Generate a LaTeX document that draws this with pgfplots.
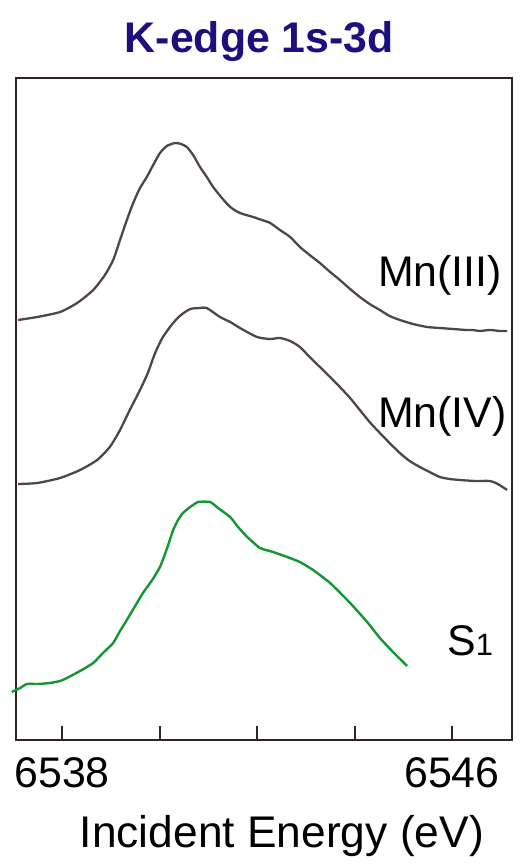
\documentclass[border=0pt]{standalone}
\usepackage{pgfplots}
\pgfplotsset{compat=1.18}
\usepackage{fontspec}
\setmainfont{Liberation Sans}

\definecolor{titleblue}{RGB}{28,16,128}
\definecolor{axisdark}{RGB}{50,35,35}
\definecolor{mncurve}{RGB}{80,70,70}
\definecolor{sgreen}{RGB}{20,150,50}

\newcommand{\bigfont}{\fontsize{43}{50}\selectfont}

\begin{document}
\begin{tikzpicture}
\useasboundingbox (-16bp,-127bp) rectangle (508bp,740bp);
\begin{axis}[
    at={(0,0)}, anchor=south west,
    scale only axis,
    width=496bp, height=662bp,
    xmin=6537.056, xmax=6547.231,
    ymin=0, ymax=662,
    axis line style={color=axisdark, line width=2.6bp},
    xtick={6538,6540,6542,6544,6546},
    xticklabels={6538,,,,6546},
    ytick=\empty,
    xtick pos=left,
    tick align=inside,
    major tick length=14bp,
    tick style={color=axisdark, line width=2bp},
    xticklabel style={font=\bigfont, anchor=base, inner sep=0pt, yshift=-47bp},
    clip=false,
]

% Mn(III)
\addplot[color=mncurve, line width=2.3bp, smooth, tension=0.4] coordinates {
    (6537.10,420) (6537.49,423) (6537.96,428) (6538.31,437) (6538.64,450)
    (6538.88,465) (6539.05,480) (6539.19,500) (6539.33,520) (6539.46,537)
    (6539.60,552) (6539.74,563) (6539.87,575) (6540.01,587) (6540.15,594)
    (6540.32,597) (6540.44,596) (6540.56,593) (6540.69,585) (6540.83,573)
    (6540.97,563) (6541.10,553) (6541.28,542) (6541.45,533) (6541.65,527)
    (6541.92,523) (6542.10,520) (6542.27,517) (6542.47,510) (6542.68,503)
    (6542.88,493) (6543.08,485) (6543.29,477) (6543.50,468) (6543.70,460)
    (6543.91,451) (6544.11,443) (6544.31,436) (6544.52,430) (6544.72,424)
    (6544.93,420) (6545.20,416) (6545.49,413) (6545.75,412) (6546.02,411)
    (6546.29,410) (6546.43,410) (6546.57,409) (6546.78,410) (6546.98,409)
    (6547.13,409)
};

% Mn(IV)
\addplot[color=mncurve, line width=2.3bp, smooth, tension=0.4] coordinates {
    (6537.10,256) (6537.49,257) (6537.96,262) (6538.37,270) (6538.72,280)
    (6538.98,293) (6539.19,310) (6539.39,330) (6539.60,350) (6539.76,367)
    (6539.91,387) (6540.07,403) (6540.28,417) (6540.44,425) (6540.63,431)
    (6540.83,432) (6540.97,432) (6541.24,423) (6541.45,418) (6541.65,412)
    (6542.00,403) (6542.27,401) (6542.47,402) (6542.68,399) (6542.88,393)
    (6543.08,383) (6543.29,373) (6543.50,363) (6543.70,353) (6543.91,342)
    (6544.11,330) (6544.31,318) (6544.52,307) (6544.72,297) (6544.93,287)
    (6545.13,279) (6545.34,273) (6545.54,268) (6545.75,263) (6545.95,261)
    (6546.16,260) (6546.47,259) (6546.78,259) (6546.94,256) (6547.13,250)
};

% S1
\addplot[color=sgreen, line width=2.4bp, smooth, tension=0.3] coordinates {
    (6536.97,48) (6537.14,52) (6537.28,56) (6537.51,56) (6537.75,57)
    (6537.96,59) (6538.10,62) (6538.37,69) (6538.64,77) (6538.84,87)
    (6539.05,97) (6539.19,109) (6539.33,120) (6539.50,134) (6539.66,147)
    (6539.85,160) (6540.01,173) (6540.15,191) (6540.28,210) (6540.38,220)
    (6540.48,227) (6540.63,233) (6540.79,238) (6541.04,238) (6541.20,232)
    (6541.45,223) (6541.61,213) (6541.80,203) (6542.06,192) (6542.33,188)
    (6542.62,183) (6542.88,178) (6543.15,170) (6543.50,157) (6543.91,137)
    (6544.26,118) (6544.52,102) (6544.79,88) (6545.08,74)
};

\node[anchor=base west, inner sep=0pt, font=\bigfont] at (axis cs:6544.48,453) {Mn(III)};
\node[anchor=base west, inner sep=0pt, font=\bigfont] at (axis cs:6544.48,312) {Mn(IV)};
\node[anchor=base west, inner sep=0pt, font=\bigfont] at (axis cs:6545.90,85) {S{\fontsize{31}{36}\selectfont 1}};

\node[anchor=base, inner sep=0pt, font=\bigfont\bfseries, text=titleblue] at (axis cs:6542.05,687) {K-edge 1s-3d};
\node[anchor=base, inner sep=0pt, font=\fontsize{44.5}{52}\selectfont] at (axis cs:6542.51,-107) {Incident Energy (eV)};

\end{axis}
\end{tikzpicture}
\end{document}
